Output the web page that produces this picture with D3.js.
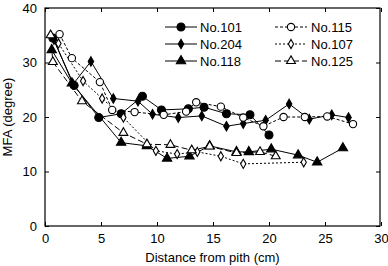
<!DOCTYPE html>
<html>
<head>
<meta charset="utf-8">
<script src="https://d3js.org/d3.v7.min.js"></script>
<style>
  body { margin: 0; background: #fff; }
  svg { font-family: "Liberation Sans", Arial, sans-serif; }
</style>
</head>
<body>
<svg id="chart" width="388" height="266"></svg>
<script>
// values: [distance (cm), MFA (degree)]
const no101 = [[0.7,34.5],[2.6,25.8],[4.8,19.9],[6.8,20.6],[8.7,23.8],[10.4,21.3],[12.8,21.5],[14.2,21.8],[16.2,20.6],[18.3,20.4],[20.0,16.7]];
const no204 = [[0.8,34.2],[2.5,26.0],[4.1,30.2],[6.1,23.4],[8.3,22.9],[9.6,20.5],[11.9,19.9],[14.0,20.2],[16.2,18.3],[17.7,18.8],[19.7,19.4],[21.8,22.4],[23.6,19.6],[25.6,20.4],[27.1,19.9]];
const no118 = [[0.6,32.3],[2.4,26.2],[6.8,15.3],[9.1,14.7],[10.9,12.4],[12.9,12.8],[14.7,14.7],[17.1,13.6],[18.2,13.6],[20.2,14.1],[22.6,13.0],[24.3,11.7],[26.6,14.3]];
const no115 = [[1.3,35.2],[2.4,30.8],[4.9,26.4],[6.0,21.3],[8.0,20.9],[10.6,20.4],[12.6,21.0],[13.5,22.7],[15.7,21.9],[17.7,19.9],[19.5,18.3],[21.3,20.0],[23.2,20.0],[25.2,20.1],[27.5,18.7]];
const no107 = [[1.2,33.5],[3.4,26.6],[5.1,23.4],[7.0,19.9],[9.9,13.8],[11.8,13.2],[13.6,13.6],[15.7,12.8],[17.7,11.4],[23.1,11.7]];
const no125 = [[0.5,35.0],[0.7,30.1],[3.3,22.9],[7.0,17.1],[9.1,15.0],[11.2,14.9],[13.1,13.9],[14.7,14.6],[17.1,13.4],[19.2,13.6],[20.6,12.8]];

const xTicks = [0, 5, 10, 15, 20, 25, 30];
const yTicks = [0, 10, 20, 30, 40];

const series = [
  {name: "No.101", data: no101, shape: d3.symbolCircle, size: 50, fill: "#000", dash: null},
  {name: "No.204", data: no204, shape: d3.symbolDiamond, size: 26, fill: "#000", dash: null},
  {name: "No.118", data: no118, shape: d3.symbolTriangle, size: 38, fill: "#000", dash: null},
  {name: "No.115", data: no115, shape: d3.symbolCircle, size: 42, fill: "#fff", dash: "3,2"},
  {name: "No.107", data: no107, shape: d3.symbolDiamond, size: 24, fill: "#fff", dash: "2,2"},
  {name: "No.125", data: no125, shape: d3.symbolTriangle, size: 34, fill: "#fff", dash: "6,3"}
];

const margin = {top: 8, right: 8, bottom: 40, left: 45};
const W = 388, H = 266;
const width = W - margin.left - margin.right;
const height = H - margin.top - margin.bottom;

const svg = d3.select("#chart");
const g = svg.append("g").attr("transform", `translate(${margin.left},${margin.top})`);

const x = d3.scaleLinear().domain([0, 30]).range([0, 336]);
const y = d3.scaleLinear().domain([0, 40]).range([height, 0]);

// frame
g.append("rect")
  .attr("width", width).attr("height", height)
  .attr("fill", "none").attr("stroke", "#000").attr("stroke-width", 1.2);

// axes, ticks pointing inward
g.append("g").attr("transform", `translate(0,${height})`)
  .call(d3.axisBottom(x).tickValues(xTicks).tickSize(-4).tickPadding(8));
g.append("g")
  .call(d3.axisLeft(y).tickValues(yTicks).tickSize(-4).tickPadding(8));
g.append("g")
  .call(d3.axisTop(x).tickValues(xTicks).tickSize(-4).tickFormat(""));
g.append("g").attr("transform", `translate(${width},0)`)
  .call(d3.axisRight(y).tickValues(yTicks).tickSize(-4).tickFormat(""));

g.selectAll(".domain").remove();
g.selectAll(".tick line").attr("stroke", "#000");
g.selectAll(".tick text").attr("fill", "#000").style("font-size", "13px");

// axis titles
svg.append("text")
  .attr("x", margin.left + width / 2).attr("y", 262)
  .attr("text-anchor", "middle").style("font-size", "13px")
  .text("Distance from pith (cm)");
svg.append("text")
  .attr("transform", `translate(12,${margin.top + height / 2}) rotate(-90)`)
  .attr("text-anchor", "middle").style("font-size", "13px")
  .text("MFA (degree)");

const line = d3.line().x(d => x(d[0])).y(d => y(d[1]));

series.forEach(s => {
  g.append("path")
    .datum(s.data)
    .attr("d", line)
    .attr("fill", "none")
    .attr("stroke", "#000")
    .attr("stroke-width", 1)
    .attr("stroke-dasharray", s.dash);
});

series.forEach(s => {
  g.selectAll(null)
    .data(s.data)
    .enter()
    .append("path")
    .attr("d", d3.symbol().type(s.shape).size(s.size))
    .attr("transform", d => `translate(${x(d[0])},${y(d[1])})`)
    .attr("fill", s.fill)
    .attr("stroke", "#000")
    .attr("stroke-width", 1.1);
});

// legend
const legend = svg.append("g");
series.forEach((s, i) => {
  const col = Math.floor(i / 3), row = i % 3;
  const lx = col === 0 ? 165 : 275;
  const ly = 27 + row * 17;
  const item = legend.append("g").attr("transform", `translate(${lx},${ly})`);
  item.append("line")
    .attr("x1", 0).attr("x2", 32).attr("y1", 0).attr("y2", 0)
    .attr("stroke", "#000").attr("stroke-width", 1)
    .attr("stroke-dasharray", s.dash);
  item.append("path")
    .attr("d", d3.symbol().type(s.shape).size(s.size))
    .attr("transform", "translate(16,0)")
    .attr("fill", s.fill).attr("stroke", "#000").attr("stroke-width", 1.1);
  item.append("text")
    .attr("x", col === 0 ? 35 : 36).attr("y", 4.5)
    .style("font-size", "13px")
    .text(s.name);
});
</script>
</body>
</html>
